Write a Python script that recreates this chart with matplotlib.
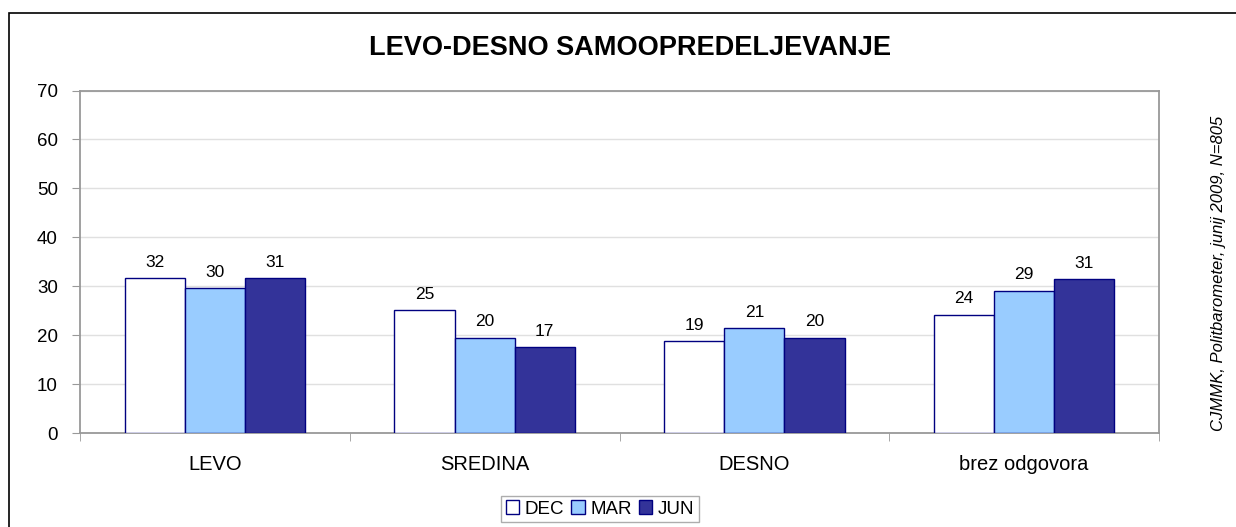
import numpy as np
import matplotlib; matplotlib.use("Agg")
import matplotlib.pyplot as plt
from matplotlib.patches import Rectangle, Patch

plt.rcParams["font.family"] = ["Liberation Sans", "DejaVu Sans"]

categories = ["LEVO", "SREDINA", "DESNO", "brez odgovora"]
series = ["DEC", "MAR", "JUN"]
dec = [31.6, 25.1, 18.8, 24.2]
mar = [29.6, 19.5, 21.5, 29.1]
jun = [31.6, 17.5, 19.5, 31.4]
dec_lab = ["32", "25", "19", "24"]
mar_lab = ["30", "20", "21", "29"]
jun_lab = ["31", "17", "20", "31"]

title = "LEVO-DESNO SAMOOPREDELJEVANJE"
source = "CJMMK, Politbarometer, junij 2009, N=805"

colors = ["#FFFFFF", "#99CCFF", "#333399"]
edge = "#000080"

W, H = 1236, 527
fig = plt.figure(figsize=(W/100, H/100), dpi=100)
ax = fig.add_axes([80/W, 1 - 433/H, (1159-80)/W, (433-90.5)/H])

x = np.arange(len(categories))
bw = 0.223
for k, (vals, labs) in enumerate(zip([dec, mar, jun], [dec_lab, mar_lab, jun_lab])):
    xs = x + (k - 1)*bw
    ax.bar(xs, vals, bw, color=colors[k], edgecolor=edge, lw=1.0, zorder=3)
    for xi, v, t in zip(xs, vals, labs):
        ax.text(xi, v + 3.2, t, ha="center", va="center", fontsize=12.5, zorder=4)

ax.set_xlim(-0.5, len(categories) - 0.5)
ax.set_ylim(0, 70)
ax.set_yticks(range(0, 71, 10))
ax.yaxis.grid(True, color="#E0E0E0", lw=1.0, zorder=0)
ax.set_xticks(x)
ax.set_xticklabels(categories, fontsize=14.5)
ax.set_xticks(np.arange(-0.5, len(categories)), minor=True)
ax.tick_params(axis="x", which="major", length=0, pad=16)
ax.tick_params(axis="x", which="minor", length=6, color="#999999", direction="out")
ax.tick_params(axis="y", labelsize=13.5, length=6, color="#999999", pad=10)
for s in ax.spines.values():
    s.set_color("#999999")
    s.set_linewidth(1.3)

fig.text(630/W, 1 - 48/H, title, ha="center", va="center", fontsize=19.5,
         fontweight="bold")
fig.text(1218/W, 1 - 273/H, source, ha="center", va="center", rotation=90,
         fontsize=12, style="italic")

handles = [Patch(facecolor=c, edgecolor=edge, lw=1.0) for c in colors]
fig.legend(handles, series, loc="center", bbox_to_anchor=(600/W, 1 - 509/H),
           ncol=3, fontsize=13.5, frameon=True, fancybox=False, edgecolor="#999999",
           handlelength=0.7, handleheight=0.7, handletextpad=0.3,
           columnspacing=0.4, borderpad=0.25, borderaxespad=0)

fig.patches.append(Rectangle((8.5/W, -0.05), 1.1, 1 - 12.5/H + 0.05,
                             transform=fig.transFigure, fill=False,
                             edgecolor="black", lw=1.2))

fig.savefig("out.png", dpi=100)
